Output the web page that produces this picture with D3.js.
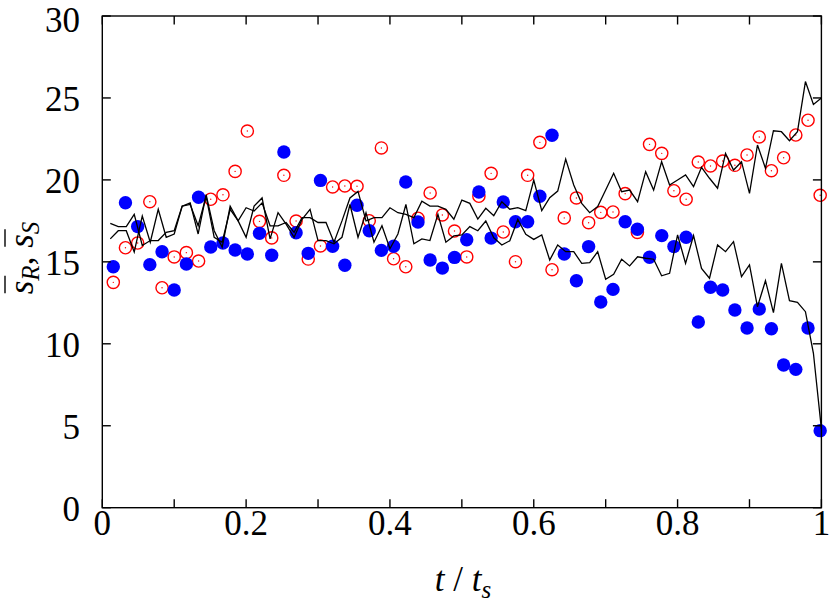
<!DOCTYPE html>
<html><head><meta charset="utf-8">
<script src="https://cdn.jsdelivr.net/npm/d3@7/dist/d3.min.js"></script>
<style>body{margin:0;background:#fff}svg{display:block}
svg text{font-family:"Liberation Serif","Tinos","Times New Roman","Nimbus Roman","DejaVu Serif",serif;}</style>
</head><body>
<svg id="c" width="830" height="607"></svg>
<script>
// ---- data ----
const xTickValues = [0,0.1,0.2,0.3,0.4,0.5,0.6,0.7,0.8,0.9,1];
const xTickLabels = ["0","","0.2","","0.4","","0.6","","0.8","","1"];
const yTickValues = [0,5,10,15,20,25,30];
const yTickLabels = ["0","5","10","15","20","25","30"];

const pointT = [0.0153,0.0322,0.0492,0.0661,0.0831,0.1000,0.1169,0.1339,0.1508,0.1678,
 0.1847,0.2017,0.2186,0.2356,0.2525,0.2695,0.2864,0.3034,0.3203,0.3373,
 0.3542,0.3712,0.3881,0.4051,0.4220,0.4390,0.4559,0.4729,0.4898,0.5068,
 0.5237,0.5407,0.5576,0.5746,0.5915,0.6085,0.6254,0.6424,0.6593,0.6763,
 0.6932,0.7102,0.7271,0.7441,0.7610,0.7780,0.7949,0.8119,0.8288,0.8458,
 0.8627,0.8797,0.8966,0.9136,0.9305,0.9475,0.9644,0.9814,0.9983];
const sR = [14.70,18.61,17.15,14.83,15.62,13.28,14.87,18.94,15.91,16.15,
 15.72,15.48,16.74,15.40,21.70,16.78,15.52,19.97,15.95,14.79,
 18.45,16.90,15.70,15.95,19.87,17.43,15.11,14.62,15.27,16.35,
 19.26,16.45,18.65,17.45,17.45,19.00,22.72,15.48,13.85,15.93,
 12.55,13.32,17.45,16.99,15.28,16.60,15.93,16.50,11.33,13.45,
 13.28,12.06,10.96,12.12,10.92,8.71,8.44,10.96,4.70];
const sS = [13.75,15.86,16.15,18.67,13.42,15.30,15.56,15.05,18.82,19.09,
 20.52,22.98,17.47,16.46,20.28,17.49,15.17,15.97,19.57,19.63,
 19.61,17.51,21.95,15.19,14.70,17.66,19.20,17.86,16.88,15.30,
 19.00,20.40,16.82,15.01,20.28,22.29,14.52,17.68,18.90,17.39,
 18.02,18.04,19.16,16.80,22.17,21.62,19.34,18.82,21.09,20.85,
 21.15,20.89,21.52,22.62,20.56,21.35,22.74,23.64,19.06];

const lineT = [0.0111,0.0222,0.0333,0.0444,0.0556,0.0667,0.0778,0.0889,0.1000,0.1111,
 0.1222,0.1333,0.1444,0.1556,0.1667,0.1778,0.1889,0.2000,0.2111,0.2222,
 0.2333,0.2444,0.2556,0.2667,0.2778,0.2889,0.3000,0.3111,0.3222,0.3333,
 0.3444,0.3556,0.3667,0.3778,0.3889,0.4000,0.4111,0.4222,0.4333,0.4444,
 0.4556,0.4667,0.4778,0.4889,0.5000,0.5111,0.5222,0.5333,0.5444,0.5556,
 0.5667,0.5778,0.5889,0.6000,0.6111,0.6222,0.6333,0.6444,0.6556,0.6667,
 0.6778,0.6889,0.7000,0.7111,0.7222,0.7333,0.7444,0.7556,0.7667,0.7778,
 0.7889,0.8000,0.8111,0.8222,0.8333,0.8444,0.8556,0.8667,0.8778,0.8889,
 0.9000,0.9111,0.9222,0.9333,0.9444,0.9556,0.9667,0.9778,0.9889,1.0000];
const lineS = [17.35,17.15,17.15,17.9,16.0,16.3,16.3,16.8,16.9,18.4,
 18.5,17.2,19.0,16.5,16.2,18.2,17.5,18.3,18.1,18.6,
 17.2,17.2,17.4,16.8,17.7,17.7,17.4,17.4,16.2,17.5,
 18.9,19.3,17.5,17.7,17.7,18.3,18.0,17.9,17.7,18.7,
 18.4,18.4,18.2,17.6,18.77,18.57,17.61,18.27,17.82,18.67,
 18.21,18.31,18.12,19.99,18.12,18.91,19.32,21.27,19.69,18.57,
 18.0,18.37,19.38,20.40,19.28,19.38,18.67,20.50,19.38,21.11,
 19.69,19.99,20.30,19.59,20.77,20.10,19.49,21.62,20.60,21.11,
 19.18,22.13,20.71,23.00,22.94,22.39,22.94,26.0,24.6,25.0];
const lineR = [16.4,16.9,16.9,15.6,17.8,16.2,18.2,16.5,16.7,18.4,
 18.6,16.7,19.1,16.9,15.9,18.4,17.5,16.5,18.4,18.9,
 16.4,18.0,17.3,16.5,17.6,18.2,16.3,16.3,16.1,16.5,
 18.5,16.5,18.0,16.2,17.2,15.8,16.7,18.5,16.1,16.4,
 16.3,17.9,16.2,16.58,16.64,17.15,16.90,17.49,16.47,16.03,
 16.29,17.59,16.68,16.37,16.64,15.11,16.03,15.62,15.62,14.91,
 14.95,15.62,13.94,14.24,15.16,14.75,15.31,15.22,15.16,14.15,
 14.30,16.64,14.91,16.6,14.60,14.00,16.03,15.62,16.23,14.10,
 14.81,12.26,13.85,11.90,14.91,12.63,12.53,11.96,9.42,4.8];

// ---- layout ----
const L = 102.3, R = 821.4, T = 16, B = 507.7;
const svg = d3.select("#c");
const x = d3.scaleLinear().domain([0,1]).range([L,R]);
const y = d3.scaleLinear().domain([0,30]).range([B,T]);

// red open circles
const gS = svg.append("g");
pointT.forEach((t,i)=>{
  gS.append("circle").attr("cx",x(t)).attr("cy",y(sS[i])).attr("r",6.1)
    .attr("fill","none").attr("stroke","#ff0000").attr("stroke-width",1.4);
  gS.append("circle").attr("cx",x(t)).attr("cy",y(sS[i])).attr("r",0.7)
    .attr("fill","#ff0000");
});
// blue filled circles
svg.append("g").selectAll("circle").data(pointT).join("circle")
  .attr("cx",d=>x(d)).attr("cy",(d,i)=>y(sR[i])).attr("r",6.7).attr("fill","#0000ff");

// lines
const line = d3.line().x(d=>x(d[0])).y(d=>y(d[1]));
[lineS,lineR].forEach(arr=>{
  svg.append("path").attr("d",line(lineT.map((t,i)=>[t,arr[i]])))
    .attr("fill","none").attr("stroke","#000").attr("stroke-width",1.3)
    .attr("stroke-linejoin","miter");
});

// frame and ticks
const ax = svg.append("g").attr("stroke","#000").attr("stroke-width",1.4);
const tl = 8.5;
xTickValues.forEach(v=>{
  ax.append("line").attr("x1",x(v)).attr("x2",x(v)).attr("y1",B).attr("y2",B-tl);
  ax.append("line").attr("x1",x(v)).attr("x2",x(v)).attr("y1",T).attr("y2",T+tl);
});
yTickValues.forEach(v=>{
  ax.append("line").attr("x1",L).attr("x2",L+tl).attr("y1",y(v)).attr("y2",y(v));
  ax.append("line").attr("x1",R).attr("x2",R-tl).attr("y1",y(v)).attr("y2",y(v));
});
ax.append("rect").attr("x",L).attr("y",T).attr("width",R-L).attr("height",B-T).attr("fill","none");

// tick labels
xTickValues.forEach((v,i)=>{
  if(!xTickLabels[i]) return;
  svg.append("text").attr("x",x(v)).attr("y",535).attr("text-anchor","middle")
    .attr("font-size",35).text(xTickLabels[i]);
});
yTickValues.forEach((v,i)=>{
  svg.append("text").attr("x",80).attr("y",Math.max(y(v)+12.8,31.5)).attr("text-anchor","end")
    .attr("font-size",35).text(yTickLabels[i]);
});

// x title: t / t_s
const xt = svg.append("text").attr("x",463).attr("y",591).attr("text-anchor","middle")
  .attr("font-size",35);
xt.append("tspan").attr("font-style","italic").text("t");
xt.append("tspan").text(" / ");
xt.append("tspan").attr("font-style","italic").text("t");
xt.append("tspan").attr("font-style","italic").attr("font-size",25).attr("dy",7).text("s");

// y title: s̄_R, s̄_S (rotated)
const gy = svg.append("g").attr("transform","translate(33,258) rotate(-90)");
const yt = gy.append("text").attr("x",0).attr("y",0).attr("text-anchor","middle")
  .attr("font-size",35);
yt.append("tspan").attr("font-style","italic").text("s");
yt.append("tspan").attr("font-style","italic").attr("font-size",25).attr("dy",6).text("R");
yt.append("tspan").attr("dy",-6).text(", ");
yt.append("tspan").attr("font-style","italic").text("s");
yt.append("tspan").attr("font-style","italic").attr("font-size",25).attr("dy",6).text("S");
// overlines above the two "s"
const node = yt.node();
[0,4].forEach(ci=>{
  const e = node.getExtentOfChar(ci);
  gy.append("line").attr("x1",e.x+1).attr("x2",e.x+e.width+5)
    .attr("y1",-28).attr("y2",-28).attr("stroke","#000").attr("stroke-width",1.4);
});
</script>
</body></html>
